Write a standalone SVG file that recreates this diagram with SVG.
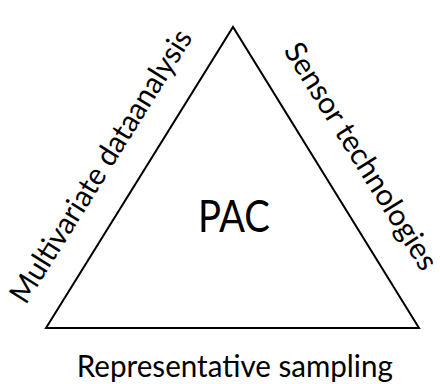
<svg xmlns="http://www.w3.org/2000/svg" width="440" height="384" viewBox="0 0 440 384">
<style>
.lbl{font-family:Lato,"Open Sans","Liberation Sans",sans-serif;font-size:30px;fill:#000;text-anchor:middle}
.pac{font-family:Lato,"Open Sans","Liberation Sans",sans-serif;font-size:44.5px;fill:#000;text-anchor:middle}
</style>
<rect width="440" height="384" fill="#fff"/>
<g id="triangle">
<polygon points="46,328 233,27 419,328" fill="none" stroke="#000" stroke-width="2" stroke-linejoin="miter"/>
</g>
<g id="center"><text class="pac" x="234" y="231.5" textLength="72" lengthAdjust="spacingAndGlyphs">PAC</text></g>
<g id="left-label"><text class="lbl" transform="translate(109.5,171.5) rotate(-58)" textLength="316" lengthAdjust="spacingAndGlyphs">Multivariate dataanalysis</text></g>
<g id="right-label"><text class="lbl" transform="translate(352.5,161.5) rotate(58)" textLength="262" lengthAdjust="spacingAndGlyphs">Sensor technologies</text></g>
<g id="bottom-label"><text class="lbl" x="234.8" y="377" textLength="316" lengthAdjust="spacingAndGlyphs">Representative sampling</text></g>
</svg>
